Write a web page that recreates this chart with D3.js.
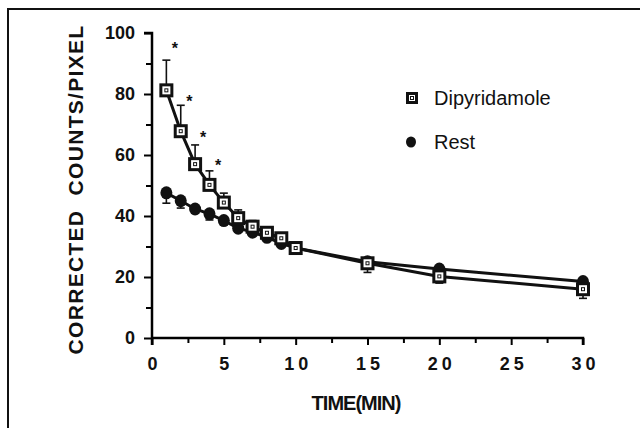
<!DOCTYPE html>
<html>
<head>
<meta charset="utf-8">
<script src="https://d3js.org/d3.v7.min.js"></script>
<style>
  body { margin: 0; background: #fff; }
  text { font-family: "Liberation Sans", Arial, Helvetica, sans-serif; fill: #111; }
</style>
</head>
<body>
<div id="chart"></div>
<script>
// data
var times = [1, 2, 3, 4, 5, 6, 7, 8, 9, 10, 15, 20, 30];
var dipyridamole = [81.2, 67.8, 57, 50.2, 44.4, 39.3, 36.5, 34.5, 32.7, 29.5, 24.5, 20.2, 16];
var dipyErr = [9.9, 8.5, 6.3, 4.6, 3.1, 2.7, 2, 1, 0.5, 0.5, 3, 2.2, 3];
var rest = [47.6, 45, 42.3, 40.7, 38.5, 36, 34.7, 33, 31, 29.5, 25, 22.6, 18.5];
var restErr = [3.4, 2.4, 1.4, 2, 1, 1, 0.5, 0.5, 0.5, 0.3, 0.3, 0.3, 0.3];
var starX = [1.6, 2.6, 3.55, 4.6];
var starY = [95.7, 78.4, 66.5, 57.4];
var xTicks = [0, 5, 10, 15, 20, 25, 30];
var yTicks = [0, 20, 40, 60, 80, 100];

var width = 643, height = 428;
var margin = { top: 33, left: 152, right: 60, bottom: 90 };

var svg = d3.select("#chart").append("svg")
  .attr("width", width)
  .attr("height", height);

// scanned frame
svg.append("path")
  .attr("d", "M8,428 L8,9 L640,9")
  .attr("fill", "none")
  .attr("stroke", "#111")
  .attr("stroke-width", 2);

var x = d3.scaleLinear().domain([0, 30]).range([margin.left, 583]);
var y = d3.scaleLinear().domain([0, 100]).range([338, margin.top]);

// axes
var yAxis = d3.axisLeft(y).tickValues(yTicks).tickSize(8).tickPadding(9);
var gy = svg.append("g").attr("transform", "translate(" + margin.left + ",0)").call(yAxis);
gy.select(".domain").attr("stroke-width", 2.5).attr("d", "M-8," + y(100) + "H0V" + (y(0) + 7));
gy.selectAll("line").attr("stroke-width", 2);
gy.selectAll("text").style("font-size", "18px").style("font-weight", "bold");

var yMinor = d3.axisLeft(y).tickValues([10, 30, 50, 70, 90]).tickSize(6).tickFormat("");
var gy2 = svg.append("g").attr("transform", "translate(" + margin.left + ",0)").call(yMinor);
gy2.select(".domain").remove();
gy2.selectAll("line").attr("stroke-width", 2);

var xAxis = d3.axisBottom(x).tickValues(xTicks).tickSize(7).tickPadding(12);
var gx = svg.append("g").attr("transform", "translate(0," + y(0) + ")").call(xAxis);
gx.select(".domain").attr("stroke-width", 2.5).attr("d", "M" + x(0) + ",0H" + x(30) + "V7");
gx.selectAll("line").attr("stroke-width", 2);
gx.selectAll("text").style("font-size", "18px").style("font-weight", "bold").style("letter-spacing", "4px")
  .attr("dx", "2px");

var xMinor = d3.axisBottom(x).tickValues([2.5, 7.5, 12.5, 17.5, 22.5, 27.5]).tickSize(5).tickFormat("");
var gx2 = svg.append("g").attr("transform", "translate(0," + y(0) + ")").call(xMinor);
gx2.select(".domain").remove();
gx2.selectAll("line").attr("stroke-width", 2);

// axis titles
svg.append("text")
  .attr("transform", "translate(83," + ((y(0) + y(100)) / 2 + 4) + ") rotate(-90)")
  .attr("text-anchor", "middle")
  .style("font-size", "21px")
  .style("font-weight", "bold")
  .style("letter-spacing", "1.3px")
  .text("CORRECTED\u00a0\u00a0COUNTS/PIXEL");

svg.append("text")
  .attr("x", 356).attr("y", 410)
  .attr("text-anchor", "middle")
  .style("font-size", "20px")
  .style("font-weight", "bold")
  .style("letter-spacing", "-1px")
  .text("TIME(MIN)");

// error bars
function errBars(vals, errs, dir) {
  var g = svg.append("g").attr("stroke", "#111").attr("stroke-width", 1.6);
  times.forEach(function (t, i) {
    var y0 = y(vals[i]), y1 = y(vals[i] + dir * errs[i]);
    g.append("line").attr("x1", x(t)).attr("x2", x(t)).attr("y1", y0).attr("y2", y1);
    g.append("line").attr("x1", x(t) - 4).attr("x2", x(t) + 4).attr("y1", y1).attr("y2", y1);
  });
}
errBars(dipyridamole, dipyErr.map(function (e, i) { return times[i] >= 15 ? -e : e; }), 1);
errBars(rest, restErr, -1);

// lines
var line = d3.line().x(function (d) { return x(d[0]); }).y(function (d) { return y(d[1]); });
svg.append("path")
  .attr("d", line(times.map(function (t, i) { return [t, rest[i]]; })))
  .attr("fill", "none").attr("stroke", "#111").attr("stroke-width", 3);
svg.append("path")
  .attr("d", line(times.map(function (t, i) { return [t, dipyridamole[i]]; })))
  .attr("fill", "none").attr("stroke", "#111").attr("stroke-width", 3);

// markers
function square(cx, cy, s) {
  s = s || 11;
  svg.append("rect").attr("x", cx - s / 2).attr("y", cy - s / 2).attr("width", s).attr("height", s)
    .attr("fill", "#fff").attr("stroke", "#111").attr("stroke-width", 3);
  svg.append("rect").attr("x", cx - 1.5).attr("y", cy - 1.5).attr("width", 3).attr("height", 3)
    .attr("fill", "none").attr("stroke", "#111").attr("stroke-width", 1);
}
function dot(cx, cy, r) {
  r = r || 6;
  svg.append("ellipse").attr("cx", cx).attr("cy", cy).attr("rx", r).attr("ry", r + 0.5).attr("fill", "#111");
}
times.forEach(function (t, i) { dot(x(t), y(rest[i])); });
times.forEach(function (t, i) { square(x(t), y(dipyridamole[i])); });

// significance stars
svg.selectAll(".star").data(starX).enter().append("text")
  .attr("x", function (d) { return x(d); })
  .attr("y", function (d, i) { return y(starY[i]) + 8; })
  .attr("text-anchor", "middle")
  .style("font-size", "16px")
  .style("font-weight", "bold")
  .text("*");

// legend
square(412, 98, 9);
svg.append("text").attr("x", 434).attr("y", 105).style("font-size", "20px").text("Dipyridamole");
dot(411, 142, 5);
svg.append("text").attr("x", 434).attr("y", 149).style("font-size", "20px").text("Rest");
</script>
</body>
</html>
